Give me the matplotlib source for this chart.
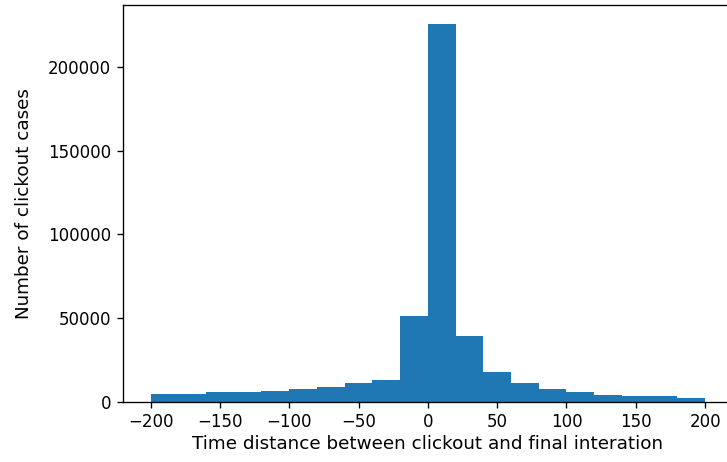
import numpy as np
import matplotlib.pyplot as plt

# Histogram of time distance (20-unit bins from -200 to 200)
bin_edges = np.arange(-200, 201, 20)
counts = [4600, 4600, 5600, 5600, 6600, 7600, 9000, 11000, 13200, 51400,
          226000, 39500, 17500, 11200, 7600, 5600, 4200, 3200, 3200, 2200]

bin_centers = (bin_edges[:-1] + bin_edges[1:]) / 2

fig = plt.figure(figsize=(727 / 120, 462 / 120), dpi=120)
ax = fig.add_axes([0.169, 0.1305, 0.839, 0.859])

ax.hist(bin_centers, bins=bin_edges, weights=counts)

ax.set_xlabel('Time distance between clickout and final interation',
              fontsize=11, labelpad=2)
ax.set_ylabel('Number of clickout cases', fontsize=11, labelpad=9)

fig.savefig('out.png', dpi=120)
